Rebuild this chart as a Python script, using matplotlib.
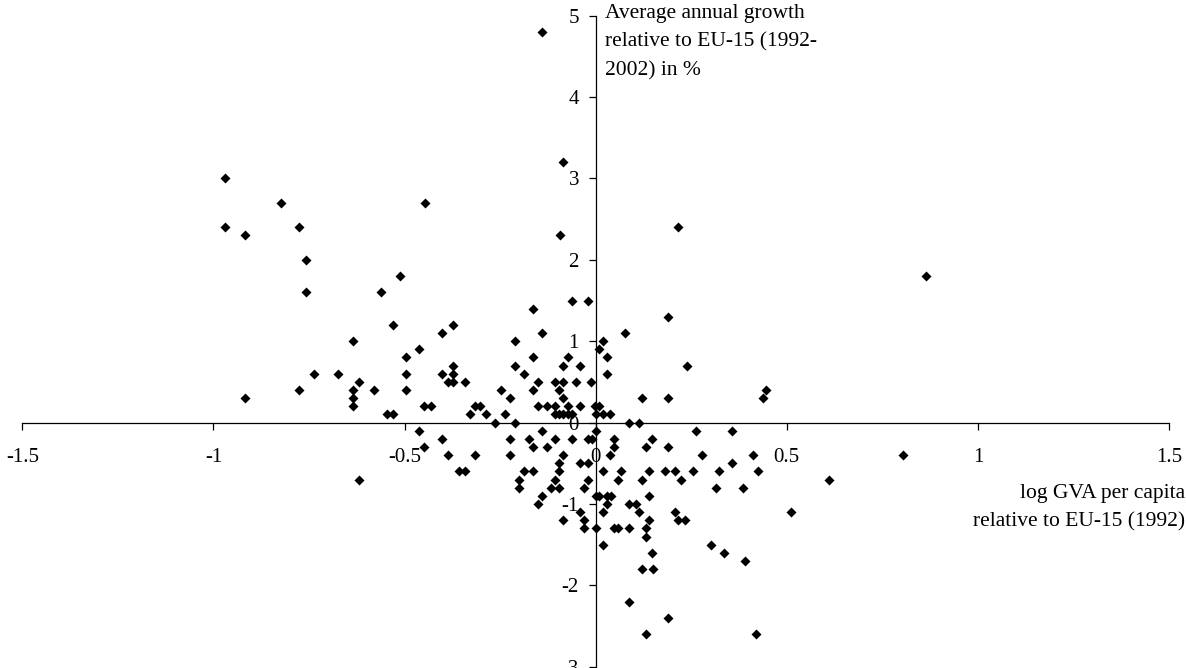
import matplotlib.pyplot as plt
from matplotlib.ticker import FuncFormatter

plt.rcParams['font.family'] = ['Liberation Serif', 'DejaVu Serif']

# log GVA per capita relative to EU-15 (1992)
gva = [
    -0.969, -0.823, -0.969, -0.918, -0.777, -0.757, -0.512, -0.757, -0.562, -0.529,
    -0.636, -0.736, -0.675, -0.618, -0.777, -0.636, -0.580, -0.918, -0.636, -0.636,
    -0.547, -0.529, -0.618,
    -0.140, -0.085, -0.447, -0.094, 0.216, 0.864, 0.804, 0.610, 0.512,
    -0.062, -0.021, -0.163, -0.372, -0.401, -0.140, -0.211, -0.463, -0.495, -0.163,
    -0.073, -0.372, -0.211, -0.085, -0.041, -0.495, -0.401, -0.372, -0.187, -0.387,
    -0.372, -0.343, -0.151, -0.106, -0.085, -0.051, -0.011, 0.010, -0.495, -0.248,
    -0.163, -0.095, -0.223, -0.085, -0.449, -0.431, -0.316, -0.302, -0.151, -0.128,
    -0.106, -0.073, -0.041, -0.003, 0.010, -0.330, -0.288, -0.236, -0.106, -0.095,
    -0.085, -0.073, -0.062, -0.263, -0.211,
    0.190, 0.076, 0.019, 0.030, 0.239, 0.030, 0.445, 0.437, 0.122, 0.190,
    0.000, 0.019, 0.038, 0.086, 0.113,
    -0.463, -0.449, -0.401, -0.387, -0.358, -0.343, -0.315, -0.223, -0.223, -0.175,
    -0.163, -0.140, -0.128, -0.106, -0.062, -0.085, -0.095, -0.095, -0.187, -0.163,
    -0.200, -0.200, -0.106, -0.117, -0.095, -0.140, -0.151, -0.085, -0.041, -0.021,
    -0.021, -0.031, -0.041, -0.031, -0.031, -0.021, -0.010, 0.000, 0.000,
    0.049, 0.049, 0.038, 0.148, 0.131, 0.190, 0.262, 0.358, 0.277, 0.412,
    0.358, 0.019, 0.067, 0.140, 0.182, 0.208, 0.255, 0.322, 0.426, 0.058,
    0.122, 0.223, 0.315, 0.386, 0.000, 0.009, 0.030, 0.040, 0.140, 0.030,
    0.086, 0.105, 0.019, 0.113, 0.208, 0.140, 0.215, 0.233, 0.049, 0.059,
    0.086, 0.131, 0.131, 0.019, 0.301, 0.337, 0.148, 0.392,
    0.122, 0.150, 0.086, 0.190, 0.131, 0.420,
]

# average annual growth relative to EU-15 (1992-2002), %
growth = [
    3.0, 2.7, 2.4, 2.3, 2.4, 2.0, 1.8, 1.6, 1.6, 1.2,
    1.0, 0.6, 0.6, 0.5, 0.4, 0.4, 0.4, 0.3, 0.3, 0.2,
    0.1, 0.1, -0.7,
    4.8, 3.2, 2.7, 2.3, 2.4, 1.8, -0.4, -0.7, -1.1,
    1.5, 1.5, 1.4, 1.2, 1.1, 1.1, 1.0, 0.9, 0.8, 0.8,
    0.8, 0.7, 0.7, 0.7, 0.7, 0.6, 0.6, 0.6, 0.6, 0.5,
    0.5, 0.5, 0.5, 0.5, 0.5, 0.5, 0.5, 0.9, 0.4, 0.4,
    0.4, 0.4, 0.3, 0.3, 0.2, 0.2, 0.2, 0.2, 0.2, 0.2,
    0.2, 0.2, 0.2, 0.2, 0.2, 0.1, 0.1, 0.1, 0.1, 0.1,
    0.1, 0.1, 0.1, 0.0, 0.0,
    1.3, 1.1, 1.0, 0.8, 0.7, 0.6, 0.4, 0.3, 0.3, 0.3,
    0.1, 0.1, 0.1, 0.0, 0.0,
    -0.1, -0.3, -0.2, -0.4, -0.6, -0.6, -0.4, -0.2, -0.4, -0.2,
    -0.3, -0.1, -0.3, -0.2, -0.2, -0.4, -0.5, -0.6, -0.6, -0.6,
    -0.7, -0.8, -0.7, -0.8, -0.8, -0.9, -1.0, -1.2, -0.5, -0.5,
    -0.7, -0.8, -1.1, -1.2, -1.3, -0.2, -0.2, -0.1, -1.3,
    -0.2, -0.3, -0.4, -0.2, -0.3, -0.3, -0.1, -0.1, -0.4, -0.4,
    -0.5, -0.6, -0.6, -0.6, -0.6, -0.6, -0.6, -0.6, -0.6, -0.7,
    -0.7, -0.7, -0.8, -0.8, -0.9, -0.9, -0.9, -0.9, -0.9, -1.0,
    -1.0, -1.0, -1.1, -1.1, -1.1, -1.2, -1.2, -1.2, -1.3, -1.3,
    -1.3, -1.3, -1.4, -1.5, -1.5, -1.6, -1.6, -1.7,
    -1.8, -1.8, -2.2, -2.4, -2.6, -2.6,
]

x_ticks = [-1.5, -1, -0.5, 0, 0.5, 1, 1.5]
y_ticks = [-3, -2, -1, 0, 1, 2, 3, 4, 5]

W, H = 1186, 668
fig = plt.figure(figsize=(W / 100, H / 100), dpi=100)
ax = fig.add_axes([22.3 / W, 1.3 / H, (1169 - 22.3) / W, (666.7 - 15.7) / H])

ax.scatter(gva, growth, marker='D', s=26, color='black', linewidths=0, zorder=3)

ax.set_xlim(-1.5, 1.5)
ax.set_ylim(-3, 5)

ax.spines['left'].set_position(('data', 0))
ax.spines['bottom'].set_position(('data', 0))
ax.spines['top'].set_visible(False)
ax.spines['right'].set_visible(False)
for s in ('left', 'bottom'):
    ax.spines[s].set_linewidth(0.9)
    ax.spines[s].set_color('black')

fmt = FuncFormatter(lambda v, p: ('%g' % v).replace('\u2212', '-'))
ax.set_xticks(x_ticks)
ax.set_yticks(y_ticks)
ax.xaxis.set_major_formatter(fmt)
ax.yaxis.set_major_formatter(fmt)
ax.tick_params(axis='x', direction='out', length=5, width=0.9, labelsize=15, pad=13)
ax.tick_params(axis='y', direction='out', length=5, width=0.9, labelsize=15, pad=7)
ax.patch.set_visible(False)

fig.text(605 / W, 1 - 4 / H, "Average annual growth\nrelative to EU-15 (1992-\n2002) in %",
         ha='left', va='top', fontsize=15.5, linespacing=1.68)
fig.text(1185 / W, 1 - 484 / H, "log GVA per capita\nrelative to EU-15 (1992)",
         ha='right', va='top', fontsize=15.5, linespacing=1.68, multialignment='right')

fig.savefig("out.png", dpi=100)
